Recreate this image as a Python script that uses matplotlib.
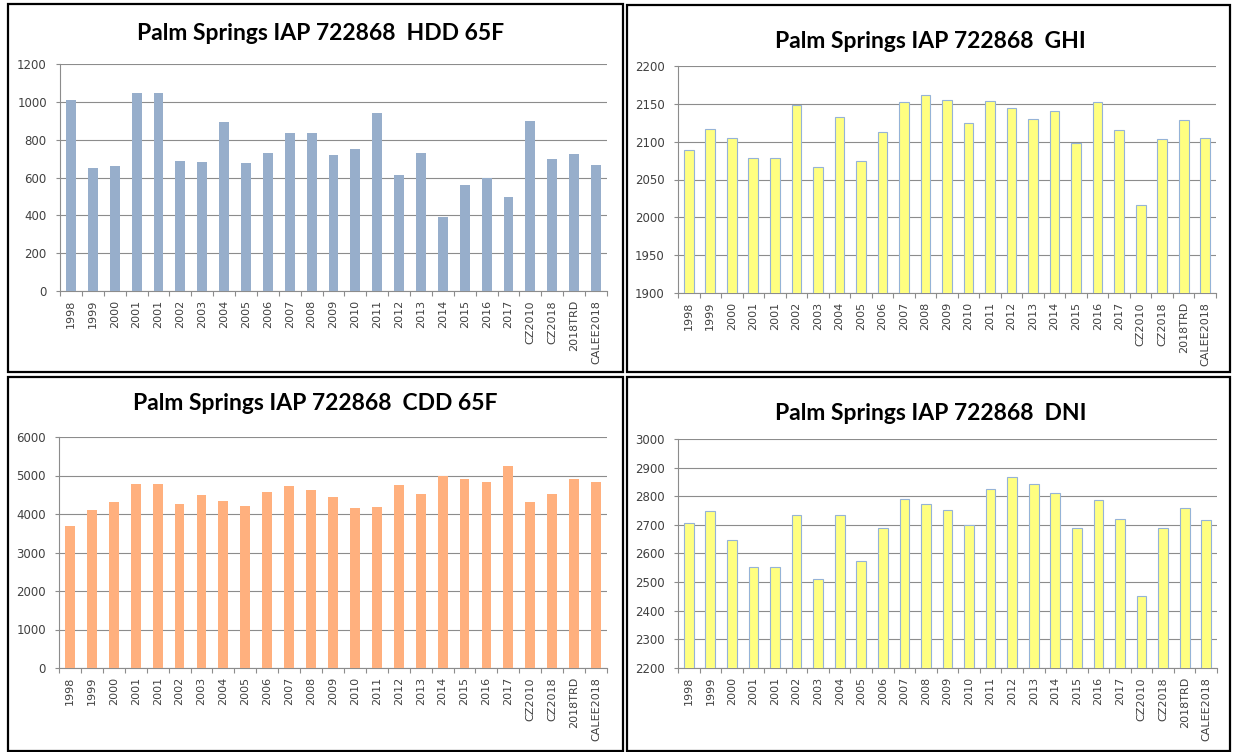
import matplotlib
matplotlib.use('Agg')
import matplotlib.pyplot as plt
from matplotlib.patches import Rectangle
import numpy as np

W, H = 1233, 752

categories = ['1998', '1999', '2000', '2001', '2001', '2002', '2003', '2004', '2005',
              '2006', '2007', '2008', '2009', '2010', '2011', '2012', '2013', '2014',
              '2015', '2016', '2017', 'CZ2010', 'CZ2018', '2018TRD', 'CALEE2018']

hdd = [1012, 652, 662, 1045, 1045, 687, 680, 895, 676, 727, 837, 837, 720, 752, 940,
       612, 730, 390, 558, 600, 497, 898, 700, 722, 665]
ghi = [2089, 2117, 2105, 2078, 2078, 2148, 2067, 2133, 2074, 2113, 2152, 2162, 2155,
       2125, 2154, 2145, 2130, 2140, 2098, 2152, 2115, 2016, 2104, 2128, 2105]
cdd = [3680, 4100, 4320, 4770, 4770, 4260, 4500, 4330, 4210, 4570, 4730, 4620, 4430,
       4160, 4180, 4750, 4510, 5000, 4900, 4820, 5240, 4320, 4520, 4900, 4840]
dni = [2707, 2748, 2648, 2552, 2552, 2733, 2510, 2733, 2573, 2690, 2790, 2773, 2753,
       2698, 2825, 2868, 2842, 2812, 2690, 2787, 2722, 2450, 2690, 2760, 2716]

titles = ['Palm Springs IAP 722868  HDD 65F', 'Palm Springs IAP 722868  GHI',
          'Palm Springs IAP 722868  CDD 65F', 'Palm Springs IAP 722868  DNI']

fig = plt.figure(figsize=(W / 100, H / 100), dpi=100)
fig.patch.set_facecolor('white')

GRID = '#8c8c8c'
TXT = '#404040'


def ax_at(x0, x1, ytop, ybot):
    return fig.add_axes([x0 / W, 1 - ybot / H, (x1 - x0) / W, (ybot - ytop) / H])


def panel(rect, values, ylim, step, color, edge, title, tpos, frame):
    fx0, fx1, fy0, fy1 = frame
    fig.patches.append(Rectangle((fx0 / W, 1 - fy1 / H), (fx1 - fx0) / W, (fy1 - fy0) / H,
                                 transform=fig.transFigure, fill=False, ec='black', lw=1.6,
                                 zorder=0))
    ax = ax_at(*rect)
    x = np.arange(len(categories))
    ax.bar(x, values, width=0.45, color=color,
           edgecolor=edge if edge else 'none', linewidth=0.8 if edge else 0, zorder=3)
    ax.set_xlim(-0.5, len(categories) - 0.5)
    ax.set_ylim(*ylim)
    ax.set_yticks(np.arange(ylim[0], ylim[1] + step / 2, step))
    ax.yaxis.grid(True, color=GRID, lw=0.8, zorder=0)
    ax.set_axisbelow(True)
    for s in ['top', 'right']:
        ax.spines[s].set_visible(False)
    for s in ['left', 'bottom']:
        ax.spines[s].set_color(GRID)
        ax.spines[s].set_linewidth(0.8)
    ax.set_xticks(x)
    ax.set_xticklabels(categories, rotation=90, fontsize=8, color=TXT)
    ax.set_xticks(np.arange(-0.5, len(categories), 1.0), minor=True)
    ax.tick_params(axis='x', which='major', length=0, pad=6.5)
    ax.tick_params(axis='x', which='minor', length=3.5, color=GRID, width=0.8)
    ax.tick_params(axis='y', length=3, color=GRID, width=0.8, pad=6.5, labelsize=8.5,
                   labelcolor=TXT)
    fig.text(tpos[0] / W, 1 - tpos[1] / H, title, ha='center', va='center',
             fontsize=16.5, fontweight='bold', family='Lato', color='black')
    return ax


panel((60, 607, 64, 291), hdd, (0, 1200), 200, '#97AECB', None, titles[0], (321, 33),
      (8, 623, 4, 372))
panel((678, 1216, 66, 293), ghi, (1900, 2200), 50, '#FFFF80', '#95B3D7', titles[1], (930, 42),
      (627, 1230, 5, 372))
panel((59, 607, 437, 668), cdd, (0, 6000), 1000, '#FFB07E', None, titles[2], (315, 403),
      (8, 623, 377, 751))
panel((678, 1217, 439, 668), dni, (2200, 3000), 100, '#FFFF80', '#95B3D7', titles[3], (931, 413),
      (627, 1230, 377, 751))

fig.savefig('out.png', dpi=100, facecolor='white')
